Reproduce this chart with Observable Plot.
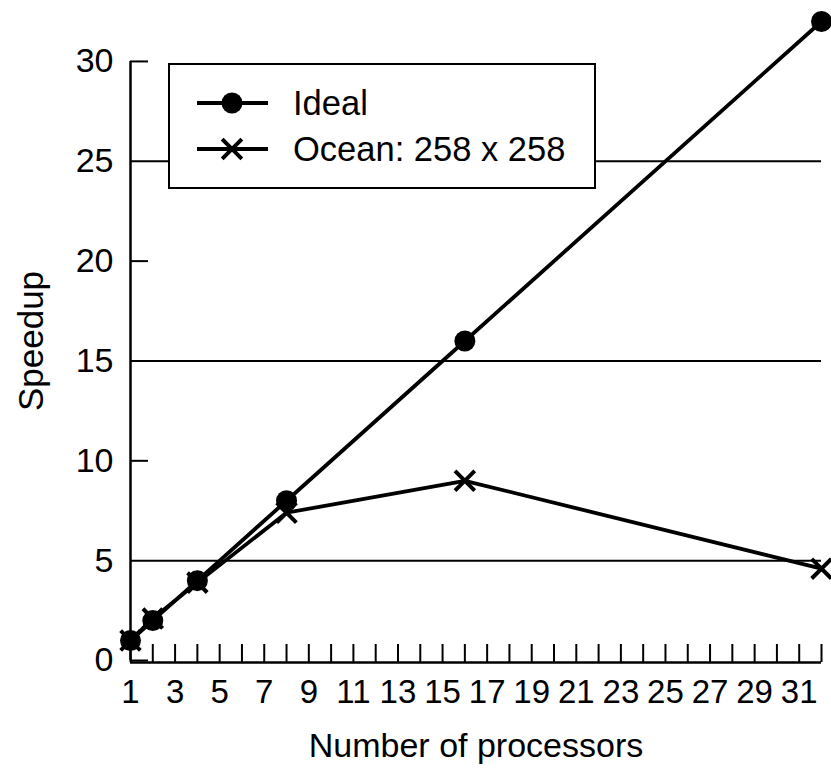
<!DOCTYPE html>
<html>
<head>
<meta charset="utf-8">
<script src="https://cdn.jsdelivr.net/npm/d3@7"></script>
<script src="https://cdn.jsdelivr.net/npm/@observablehq/plot@0.6"></script>
<style>
  body { margin: 0; background: #fff; }
  #wrap { position: relative; width: 831px; height: 773px; font-family: "Liberation Sans", Arial, sans-serif; }
  #legend { position: absolute; left: 168px; top: 63px; width: 424px; height: 122px; border: 2px solid #000; background: #fff; }
  #legend svg { position: absolute; left: 0; top: 0; }
</style>
</head>
<body>
<div id="wrap"></div>
<script>
const processors = [1, 2, 4, 8, 16, 32];
const idealSpeedup = [1, 2, 4, 8, 16, 32];
const oceanSpeedup = [1.0, 2.1, 3.9, 7.4, 9.0, 4.6];
const seriesNames = ["Ideal", "Ocean: 258 x 258"];
const yTickValues = [0, 5, 10, 15, 20, 25, 30];
const yGridValues = [5, 15, 25];
const yShortTicks = [0, 10, 20, 30];
const xTickValues = [1,2,3,4,5,6,7,8,9,10,11,12,13,14,15,16,17,18,19,20,21,22,23,24,25,26,27,28,29,30,31,32];
const xTickLabels = [1,3,5,7,9,11,13,15,17,19,21,23,25,27,29,31];

const ideal = processors.map((p, i) => ({p, s: idealSpeedup[i]}));
const ocean = processors.map((p, i) => ({p, s: oceanSpeedup[i]}));

const W = 831, H = 773, mL = 130, mR = 10, mT = 21, mB = 113;
const frameW = W - mL - mR, frameH = H - mT - mB;
const font = "Liberation Sans, Arial, sans-serif";

const chart = Plot.plot({
  width: W, height: H,
  marginLeft: mL, marginRight: mR, marginTop: mT, marginBottom: mB,
  x: {domain: [1, 32], axis: null},
  y: {domain: [0, 32], axis: null},
  style: {fontFamily: font, background: "#fff"},
  marks: [
    Plot.ruleY(yGridValues, {x1: 1, x2: 32, stroke: "#000", strokeWidth: 2}),
    Plot.ruleY(yShortTicks, {stroke: "#000", strokeWidth: 2, insetRight: frameW - 18}),
    Plot.ruleX([1], {y1: 0, y2: 30, stroke: "#000", strokeWidth: 2.5}),
    Plot.ruleY([0], {x1: 1, x2: 32, stroke: "#000", strokeWidth: 2.5, dy: 2}),
    Plot.ruleX(xTickValues, {stroke: "#000", strokeWidth: 2, insetTop: frameH - 18, dy: 2}),
    Plot.text(yTickValues, {x: 1, y: d => d, text: d => String(d), textAnchor: "end", dx: -17, fontSize: 34, fill: "#000"}),
    Plot.text(xTickLabels, {x: d => d, y: 0, text: d => String(d), dy: 32, fontSize: 33, fill: "#000"}),
    Plot.text(["Number of processors"], {frameAnchor: "bottom", textAnchor: "middle", dy: 96, fontSize: 34, fill: "#000"}),
    Plot.text(["Speedup"], {frameAnchor: "left", textAnchor: "middle", dx: -99, rotate: -90, fontSize: 35, fill: "#000"}),
    Plot.line(ideal, {x: "p", y: "s", stroke: "#000", strokeWidth: 3.8}),
    Plot.dot(ideal, {x: "p", y: "s", r: 10.5, fill: "#000", stroke: "none"}),
    Plot.line(ocean, {x: "p", y: "s", stroke: "#000", strokeWidth: 3.8}),
    Plot.dot(ocean, {x: "p", y: "s", symbol: "times", r: 9, stroke: "#000", strokeWidth: 4})
  ]
});

const wrap = document.getElementById("wrap");
wrap.appendChild(chart);

// Legend
const legend = document.createElement("div");
legend.id = "legend";
const lw = 424, lh = 122;
const svg = d3.create("svg").attr("width", lw).attr("height", lh);
const rows = [{name: seriesNames[0], sym: "circle", y: 38}, {name: seriesNames[1], sym: "times", y: 84}];
for (const r of rows) {
  svg.append("line").attr("x1", 27).attr("x2", 98).attr("y1", r.y).attr("y2", r.y)
    .attr("stroke", "#000").attr("stroke-width", 3.8);
  if (r.sym === "circle") {
    svg.append("circle").attr("cx", 62).attr("cy", r.y).attr("r", 10.5).attr("fill", "#000");
  } else {
    svg.append("path").attr("transform", `translate(62,${r.y})`)
      .attr("d", d3.symbol(d3.symbolTimes, 9 * 9 * Math.PI)())
      .attr("fill", "none").attr("stroke", "#000").attr("stroke-width", 4);
  }
  svg.append("text").attr("x", 123).attr("y", r.y).attr("dy", "0.36em")
    .attr("font-family", font).attr("font-size", 34.5).attr("fill", "#000").text(r.name);
}
legend.appendChild(svg.node());
wrap.appendChild(legend);
</script>
</body>
</html>
